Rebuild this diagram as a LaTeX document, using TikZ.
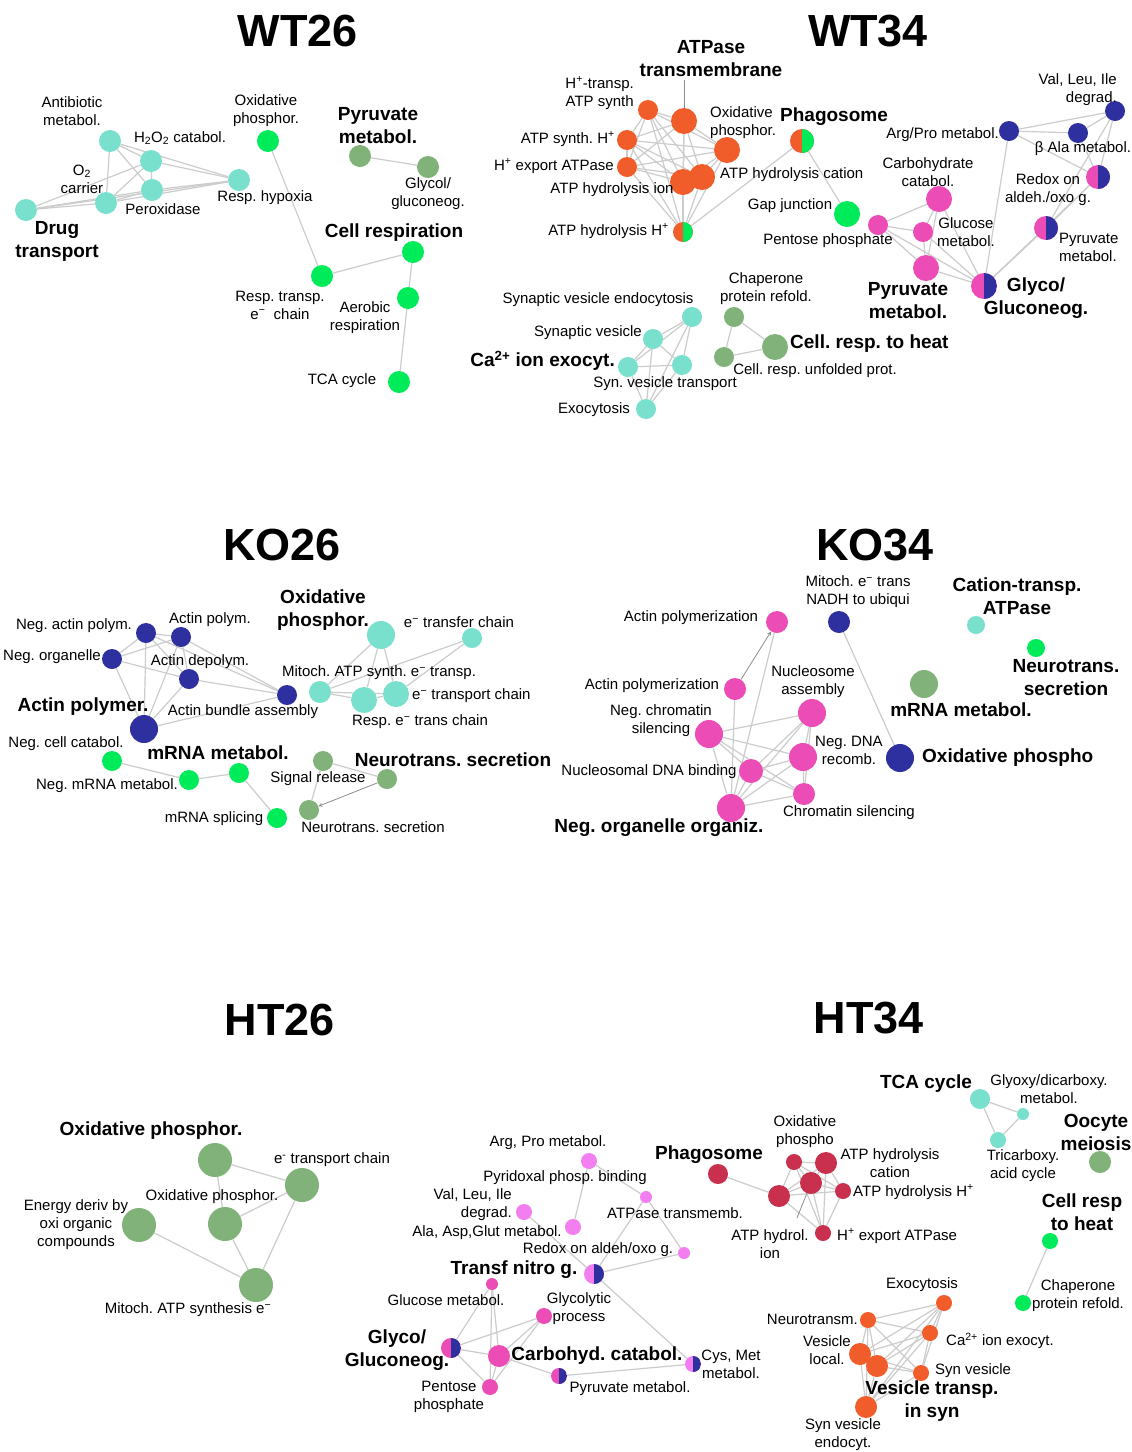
\documentclass[tikz,border=0pt]{standalone}
\usepackage{fontspec}
\setmainfont{Liberation Sans}
\usetikzlibrary{calc}
\pgfdeclarelayer{bg}
\pgfsetlayers{bg,main}
\frenchspacing
\definecolor{cy}{RGB}{122,224,206}
\definecolor{gr}{RGB}{0,235,90}
\definecolor{sg}{RGB}{128,178,122}
\definecolor{og}{RGB}{240,92,42}
\definecolor{pk}{RGB}{236,76,182}
\definecolor{nv}{RGB}{46,48,160}
\definecolor{vi}{RGB}{242,126,240}
\definecolor{cr}{RGB}{200,48,78}
\newcommand{\su}[1]{\textsuperscript{#1}}
\tikzset{
  dot/.style={circle,inner sep=0pt,minimum size=#1},
  cyn/.style={dot=#1,fill=cy}, grn/.style={dot=#1,fill=gr}, sgn/.style={dot=#1,fill=sg},
  ogn/.style={dot=#1,fill=og}, pkn/.style={dot=#1,fill=pk}, nvn/.style={dot=#1,fill=nv},
  vin/.style={dot=#1,fill=vi}, crn/.style={dot=#1,fill=cr},
  half/.style n args={3}{dot=#1,fill=#2,path picture={\fill[#3] (path picture bounding box.south) rectangle (path picture bounding box.north east);}},
}

\begin{document}
\begin{tikzpicture}[x=1pt,y=-1pt] %% enrichment maps
	\tikzstyle{lbl}=[font=\fontsize{15}{18}\selectfont,align=center,inner sep=0pt];
	\tikzstyle{blbl}=[font=\fontsize{19}{23}\selectfont\bfseries,align=center,inner sep=0pt];
	\tikzstyle{ttl}=[font=\fontsize{45}{50}\selectfont\bfseries,inner sep=0pt];
	\tikzstyle{edge}=[draw=black!20,line width=1.2pt];
	\tikzstyle{lead}=[draw=black!45,line width=0.8pt];
	\useasboundingbox (0,0) rectangle (1132,1452);

	% titles
	\node[ttl] (tWTa) at (298,31) {WT26};
	\node[ttl] (tWTb) at (868,31) {WT34};
	\node[ttl] (tKOa) at (282,545) {KO26};
	\node[ttl] (tKOb) at (875,545) {KO34};
	\node[ttl] (tHTa) at (280,1020) {HT26};
	\node[ttl] (tHTb) at (869,1018) {HT34};

	% WT26
	\node[cyn=22] (ab) at (110,141) {};
	\node[cyn=22] (hc) at (151,161) {};
	\node[cyn=22] (px) at (152,190) {};
	\node[cyn=22] (oc) at (106,203) {};
	\node[cyn=22] (dt) at (26,210) {};
	\node[cyn=22] (rh) at (239,180) {};
	\node[grn=22] (opa) at (268,141) {};
	\node[grn=22] (rt) at (322,276) {};
	\node[grn=22] (ce) at (413,252) {};
	\node[grn=22] (ar) at (408,298) {};
	\node[grn=22] (tc) at (399,382) {};
	\node[sgn=22] (pma) at (360,156) {};
	\node[sgn=22] (gga) at (428,167) {};
	\node[lbl] (lab) at (72,111) {Antibiotic\\metabol.};
	\node[lbl] (lhc) at (180,138) {H\textsubscript{2}O\textsubscript{2} catabol.};
	\node[lbl] (loc) at (82,179) {O\textsubscript{2}\\carrier};
	\node[lbl] (lpx) at (163,209) {Peroxidase};
	\node[lbl] (lrh) at (265,198) {Resp. hypoxia};
	\node[blbl] (ldt) at (57,241) {Drug\\transport};
	\node[lbl] (lopa) at (266,111) {Oxidative\\phosphor.};
	\node[blbl] (lpma) at (378,126) {Pyruvate\\metabol.};
	\node[lbl] (lgga) at (428,194) {Glycol/\\gluconeog.};
	\node[blbl] (lce) at (394,233) {Cell respiration};
	\node[lbl] (lrt) at (280,305) {Resp. transp.\\e\su{−}\ \ chain};
	\node[lbl] (lar) at (365,318) {Aerobic\\respiration};
	\node[lbl] (ltc) at (342,381) {TCA cycle};

	% WT34
	\node[ogn=20] (hta) at (648,110) {};
	\node[ogn=26] (atm) at (684,121) {};
	\node[ogn=20] (asy) at (627,140) {};
	\node[ogn=26] (oxp) at (727,150) {};
	\node[ogn=20] (hex) at (627,167) {};
	\node[ogn=26] (ahi) at (683,182) {};
	\node[ogn=26] (ahc) at (702,177) {};
	\node[half={20}{og}{gr}] (ahh) at (683,232) {};
	\node[half={24}{og}{gr}] (pha) at (802,141) {};
	\node[grn=26] (gj) at (847,214) {};
	\node[pkn=20] (pp) at (878,225) {};
	\node[pkn=26] (cc) at (939,199) {};
	\node[pkn=20] (gm) at (923,232) {};
	\node[pkn=26] (pyb) at (926,268) {};
	\node[half={26}{pk}{nv}] (gly) at (984,286) {};
	\node[half={24}{pk}{nv}] (pyh) at (1046,228) {};
	\node[nvn=20] (ap) at (1009,131) {};
	\node[nvn=20] (vli) at (1115,111) {};
	\node[nvn=20] (bal) at (1078,133) {};
	\node[half={24}{pk}{nv}] (rdx) at (1098,177) {};
	\coordinate (atmtop) at (684,80);
	\node[blbl] (latm) at (711,59) {ATPase\\transmembrane};
	\node[lbl,anchor=east] (lhta) at (634,93) {H\su{+}-transp.\\ATP synth};
	\node[lbl,anchor=west,align=left] (loxp) at (710,123) {Oxidative\\phosphor.};
	\node[blbl] (lpha) at (834,117) {Phagosome};
	\node[lbl,anchor=east] (lasy) at (615,139) {ATP synth. H\su{+}};
	\node[lbl,anchor=east] (lhex) at (614,166) {H\su{+} export ATPase};
	\node[lbl] (lahi) at (612,190) {ATP hydrolysis ion};
	\node[lbl,anchor=west] (lahc) at (720,175) {ATP hydrolysis cation};
	\node[lbl,anchor=east] (lahh) at (669,231) {ATP hydrolysis H\su{+}};
	\node[lbl] (lgj) at (790,206) {Gap junction};
	\node[lbl] (lpp) at (828,241) {Pentose phosphate};
	\node[lbl,anchor=east,align=right] (lvli) at (1117,90) {Val, Leu, Ile\\degrad.};
	\node[lbl,anchor=east] (lap) at (999,135) {Arg/Pro metabol.};
	\node[lbl] (lbal) at (1083,149) {β Ala metabol.};
	\node[lbl] (lcc) at (928,172) {Carbohydrate\\catabol.};
	\node[lbl] (lrdx) at (1048,190) {Redox on\\aldeh./oxo g.};
	\node[lbl] (lgm) at (966,232) {Glucose\\metabol.};
	\node[lbl,anchor=west,align=left] (lpyh) at (1059,247) {Pyruvate\\metabol.};
	\node[blbl] (lpyb) at (908,301) {Pyruvate\\metabol.};
	\node[blbl] (lgly) at (1036,298) {Glyco/\\Gluconeog.};
	\node[cyn=20] (sve) at (692,317) {};
	\node[cyn=20] (sv) at (653,339) {};
	\node[cyn=20] (ca) at (628,367) {};
	\node[cyn=20] (svt) at (682,365) {};
	\node[cyn=20] (exo) at (646,409) {};
	\node[sgn=20] (chp) at (734,317) {};
	\node[sgn=20] (cru) at (724,357) {};
	\node[sgn=26] (crh) at (775,347) {};
	\node[lbl] (lsve) at (598,300) {Synaptic vesicle endocytosis};
	\node[lbl] (lsv) at (588,333) {Synaptic vesicle};
	\node[blbl,anchor=east] (lca) at (615,361) {Ca\su{2+} ion exocyt.};
	\node[lbl] (lsvt) at (665,384) {Syn. vesicle transport};
	\node[lbl] (lexo) at (594,410) {Exocytosis};
	\node[lbl] (lchp) at (766,289) {Chaperone\\protein refold.};
	\node[blbl,anchor=west] (lcrh) at (790,344) {Cell. resp. to heat};
	\node[lbl] (lcru) at (815,371) {Cell. resp. unfolded prot.};

	% KO26
	\node[nvn=20] (nap) at (146,633) {};
	\node[nvn=20] (apo) at (181,637) {};
	\node[nvn=20] (nor) at (112,659) {};
	\node[nvn=20] (ade) at (189,679) {};
	\node[nvn=20] (abu) at (287,695) {};
	\node[nvn=28] (apr) at (144,729) {};
	\node[cyn=28] (okp) at (381,635) {};
	\node[cyn=20] (etf) at (472,638) {};
	\node[cyn=22] (mas) at (320,692) {};
	\node[cyn=26] (ret) at (364,700) {};
	\node[cyn=26] (etc) at (396,694) {};
	\node[grn=20] (ncc) at (112,761) {};
	\node[grn=20] (nmr) at (189,780) {};
	\node[grn=20] (mrm) at (239,773) {};
	\node[grn=20] (mrs) at (277,818) {};
	\node[sgn=20] (sr) at (323,761) {};
	\node[sgn=20] (ntr) at (387,779) {};
	\node[sgn=20] (nts) at (309,810) {};
	\node[lbl] (lnap) at (74,626) {Neg. actin polym.};
	\node[lbl] (lapo) at (210,620) {Actin polym.};
	\node[lbl,anchor=east] (lnor) at (101,657) {Neg. organelle};
	\node[lbl] (lade) at (200,662) {Actin depolym.};
	\node[blbl] (lapr) at (83,707) {Actin polymer.};
	\node[lbl] (labu) at (243,712) {Actin bundle assembly};
	\node[blbl] (lokp) at (323,610) {Oxidative\\phosphor.};
	\node[lbl] (letf) at (459,622) {e\su{−} transfer chain};
	\node[lbl] (lmas) at (379,673) {Mitoch. ATP synth. e\su{−} transp.};
	\node[lbl,anchor=west] (letc) at (412,696) {e\su{−} transport chain};
	\node[lbl] (lret) at (420,722) {Resp. e\su{−} trans chain};
	\node[lbl] (lncc) at (66,744) {Neg. cell catabol.};
	\node[blbl] (lmrm) at (218,753) {mRNA metabol.};
	\node[lbl] (lnmr) at (107,786) {Neg. mRNA metabol.};
	\node[lbl] (lmrs) at (214,819) {mRNA splicing};
	\node[blbl] (lntr) at (453,760) {Neurotrans. secretion};
	\node[lbl] (lsr) at (318,779) {Signal release};
	\node[lbl] (lnts) at (373,827) {Neurotrans. secretion};

	% KO34
	\node[pkn=22] (apt) at (777,622) {};
	\node[pkn=22] (apl) at (735,689) {};
	\node[pkn=28] (nas) at (812,713) {};
	\node[pkn=28] (nch) at (709,734) {};
	\node[pkn=28] (ndn) at (803,757) {};
	\node[pkn=24] (ndb) at (751,771) {};
	\node[pkn=22] (chs) at (804,794) {};
	\node[pkn=28] (noo) at (731,808) {};
	\node[nvn=22] (mit) at (839,622) {};
	\node[nvn=28] (oph) at (900,758) {};
	\node[cyn=18] (cat) at (976,625) {};
	\node[grn=18] (nse) at (1036,648) {};
	\node[sgn=28] (mrn) at (924,684) {};
	\node[lbl] (lapt) at (691,618) {Actin polymerization};
	\node[lbl] (lmit) at (858,592) {Mitoch. e\su{−} trans\\NADH to ubiqui};
	\node[blbl] (lcat) at (1017,596) {Cation-transp.\\ATPase};
	\node[lbl] (lapl) at (652,686) {Actin polymerization};
	\node[lbl] (lnas) at (813,682) {Nucleosome\\assembly};
	\node[lbl] (lnch) at (661,721) {Neg. chromatin\\silencing};
	\node[blbl] (lnse) at (1066,678) {Neurotrans.\\secretion};
	\node[blbl] (lmrn) at (961,710) {mRNA metabol.};
	\node[lbl] (lndn) at (849,750) {Neg. DNA\\recomb.};
	\node[blbl,anchor=west] (loph) at (922,758) {Oxidative phospho};
	\node[lbl] (lndb) at (649,772) {Nucleosomal DNA binding};
	\node[lbl] (lchs) at (849,813) {Chromatin silencing};
	\node[blbl] (lnoo) at (659,828) {Neg. organelle organiz.};

	% HT26
	\node[sgn=34] (hop) at (215,1160) {};
	\node[sgn=34] (het) at (302,1185) {};
	\node[sgn=34] (hmo) at (225,1224) {};
	\node[sgn=34] (hen) at (139,1225) {};
	\node[sgn=34] (hma) at (256,1285) {};
	\node[blbl] (lhop) at (151,1131) {Oxidative phosphor.};
	\node[lbl] (lhet) at (332,1160) {e\su{-} transport chain};
	\node[lbl] (lhmo) at (212,1197) {Oxidative phosphor.};
	\node[lbl] (lhen) at (76,1225) {Energy deriv by\\oxi organic\\compounds};
	\node[lbl] (lhma) at (188,1310) {Mitoch. ATP synthesis e\su{−}};

	% HT34
	\node[vin=16] (vap) at (589,1161) {};
	\node[vin=12] (vat) at (646,1197) {};
	\node[vin=16] (vvl) at (524,1212) {};
	\node[vin=16] (vaa) at (573,1227) {};
	\node[vin=12] (vrd) at (684,1253) {};
	\node[half={20}{vi}{nv}] (vtn) at (594,1274) {};
	\node[pkn=12] (pgl) at (492,1284) {};
	\node[pkn=16] (pgy) at (544,1316) {};
	\node[half={20}{pk}{nv}] (pgg) at (451,1348) {};
	\node[pkn=22] (pcc) at (499,1356) {};
	\node[pkn=16] (ppe) at (490,1387) {};
	\node[half={16}{pk}{nv}] (ppy) at (559,1376) {};
	\node[half={16}{vi}{nv}] (pcm) at (693,1364) {};
	\node[lbl] (lvap) at (548,1143) {Arg, Pro metabol.};
	\node[lbl] (lvpy) at (565,1178) {Pyridoxal phosp. binding};
	\node[lbl,align=right,anchor=east] (lvvl) at (512,1205) {Val, Leu, Ile\\degrad.};
	\node[lbl] (lvat) at (675,1213) {ATPase transmemb.};
	\node[lbl] (lvaa) at (487,1233) {Ala, Asp,Glut metabol.};
	\node[lbl] (lvrd) at (598,1250) {Redox on aldeh/oxo g.};
	\node[blbl] (lvtn) at (514,1270) {Transf nitro g.};
	\node[lbl] (lpgl) at (446,1300) {Glucose metabol.};
	\node[lbl] (lpgy) at (579,1309) {Glycolytic\\process};
	\node[blbl] (lpgg) at (397,1350) {Glyco/\\Gluconeog.};
	\node[blbl] (lpcc) at (597,1356) {Carbohyd. catabol.};
	\node[lbl] (lpcm) at (731,1364) {Cys, Met\\metabol.};
	\node[lbl] (lppy) at (630,1389) {Pyruvate metabol.};
	\node[lbl] (lppe) at (449,1397) {Pentose\\phosphate};
	\node[crn=20] (cph) at (718,1174) {};
	\node[crn=16] (cox) at (794,1162) {};
	\node[crn=22] (cac) at (826,1163) {};
	\node[crn=22] (cbl) at (779,1196) {};
	\node[crn=22] (cai) at (811,1183) {};
	\node[crn=16] (cah) at (843,1191) {};
	\node[crn=16] (che) at (823,1233) {};
	\coordinate (caibot) at (797,1218);
	\node[blbl] (lcph) at (709,1155) {Phagosome};
	\node[lbl] (lcox) at (805,1132) {Oxidative\\phospho};
	\node[lbl] (lcac) at (890,1163) {ATP hydrolysis\\cation};
	\node[lbl,anchor=west] (lcah) at (853,1192) {ATP hydrolysis H\su{+}};
	\node[lbl] (lcai) at (770,1244) {ATP hydrol.\\ion};
	\node[lbl,anchor=west] (lche) at (837,1236) {H\su{+} export ATPase};
	\node[cyn=20] (tca) at (980,1099) {};
	\node[cyn=12] (tgl) at (1023,1114) {};
	\node[cyn=16] (ttr) at (998,1140) {};
	\node[sgn=22] (oom) at (1100,1162) {};
	\node[grn=16] (crt) at (1050,1241) {};
	\node[grn=16] (cpr) at (1023,1303) {};
	\node[blbl] (ltca) at (926,1084) {TCA cycle};
	\node[lbl] (ltgl) at (1049,1089) {Glyoxy/dicarboxy.\\metabol.};
	\node[lbl] (lttr) at (1023,1166) {Tricarboxy.\\acid cycle};
	\node[blbl] (loom) at (1096,1132) {Oocyte\\meiosis};
	\node[blbl] (lcrt) at (1082,1212) {Cell resp\\to heat};
	\node[lbl] (lcpr) at (1078,1296) {Chaperone\\protein refold.};
	\node[ogn=16] (oex) at (944,1303) {};
	\node[ogn=16] (ont) at (868,1320) {};
	\node[ogn=16] (oca) at (930,1333) {};
	\node[ogn=22] (ovl) at (860,1354) {};
	\node[ogn=22] (ovc) at (877,1366) {};
	\node[ogn=16] (osv) at (921,1373) {};
	\node[ogn=22] (ose) at (866,1407) {};
	\node[lbl] (loex) at (922,1285) {Exocytosis};
	\node[lbl,anchor=east] (lont) at (858,1319) {Neurotransm.};
	\node[lbl,anchor=west] (loca) at (946,1341) {Ca\su{2+} ion exocyt.};
	\node[lbl] (lovl) at (827,1350) {Vesicle\\local.};
	\node[lbl,anchor=west] (losv) at (935,1371) {Syn vesicle};
	\node[blbl] (lovc) at (932,1401) {Vesicle transp.\\in syn};
	\node[lbl] (lose) at (843,1435) {Syn vesicle\\endocyt.};

	\begin{pgfonlayer}{bg}
	\fill[white] (0,0) rectangle (1132,1452);
	\foreach \a/\b in {ab/hc,ab/px,ab/oc,ab/rh,hc/px,hc/oc,hc/dt,hc/rh,px/oc,px/dt,px/rh,oc/dt,oc/rh,dt/rh,
		opa/rt,rt/ce,ce/ar,ar/tc,pma/gga,
		hta/atm,hta/asy,hta/oxp,hta/hex,hta/ahi,hta/ahc,hta/ahh,atm/asy,atm/oxp,atm/hex,atm/ahi,atm/ahc,atm/ahh,
		asy/oxp,asy/hex,asy/ahi,asy/ahc,asy/ahh,oxp/hex,oxp/ahi,oxp/ahc,oxp/ahh,hex/ahi,hex/ahc,hex/ahh,ahi/ahh,ahc/ahh,
		ahh/pha,pha/gj,
		ap/bal,ap/vli,bal/vli,bal/rdx,vli/rdx,vli/pyh,ap/rdx,ap/gly,rdx/pyh,rdx/gly,pyh/gly,
		cc/pp,cc/gm,cc/pyb,cc/gly,pp/gm,pp/pyb,pp/gly,gm/pyb,gm/gly,pyb/gly,
		sve/sv,sve/ca,sve/svt,sve/exo,sv/ca,sv/svt,sv/exo,ca/svt,ca/exo,svt/exo,
		chp/crh,chp/cru,cru/crh,
		nap/apo,nap/nor,nap/ade,nap/apr,nap/abu,apo/nor,apo/ade,apo/abu,apo/apr,nor/ade,nor/apr,ade/abu,ade/apr,apr/abu,
		okp/mas,okp/ret,okp/etc,etf/mas,etf/etc,mas/ret,mas/etc,ret/etc,
		ncc/nmr,nmr/mrm,mrm/mrs,sr/ntr,sr/nts,
		noo/apt,noo/apl,nch/nas,nch/ndn,nch/ndb,nch/chs,nch/noo,nas/ndb,nas/noo,nas/chs,nas/ndn,
		ndn/ndb,ndn/noo,ndn/chs,ndb/noo,ndb/chs,chs/noo,mit/oph,
		hop/het,hop/hmo,hmo/het,het/hma,hmo/hma,hen/hma,
		vap/vaa,vap/vat,vvl/vtn,vat/vtn,vat/vrd,vrd/vtn,vtn/pcm,
		pgl/pcc,pgl/ppe,pgl/pgg,pgy/pgg,pgy/pcc,pgy/ppe,pgg/pcc,pgg/ppe,pcc/ppe,pcc/ppy,ppy/pcm,
		cph/cbl,cox/cac,cox/cai,cox/cbl,cox/cah,cox/che,cac/cai,cac/cbl,cac/cah,cac/che,
		cai/cbl,cai/cah,cai/che,cbl/cah,cbl/che,cah/che,
		tca/tgl,tca/ttr,tgl/ttr,crt/cpr,
		oex/ont,oex/oca,oex/ovl,oex/ovc,oex/osv,oex/ose,ont/oca,ont/ovl,ont/ovc,ont/osv,ont/ose,
		oca/ovl,oca/ovc,oca/osv,oca/ose,ovl/ovc,ovl/osv,ovl/ose,ovc/osv,ovc/ose,osv/ose}
		\draw[edge] (\a) -- (\b);
	\draw[edge,draw=black!45,line width=0.8pt,-stealth] (ntr) -- (nts);
	\draw[edge,draw=black!45,line width=0.8pt,-stealth] (apl) -- (apt);
	\draw[lead] (atmtop) -- (atm);
	\draw[lead] (caibot) -- (cai);
	\end{pgfonlayer}
\end{tikzpicture}
\end{document}
